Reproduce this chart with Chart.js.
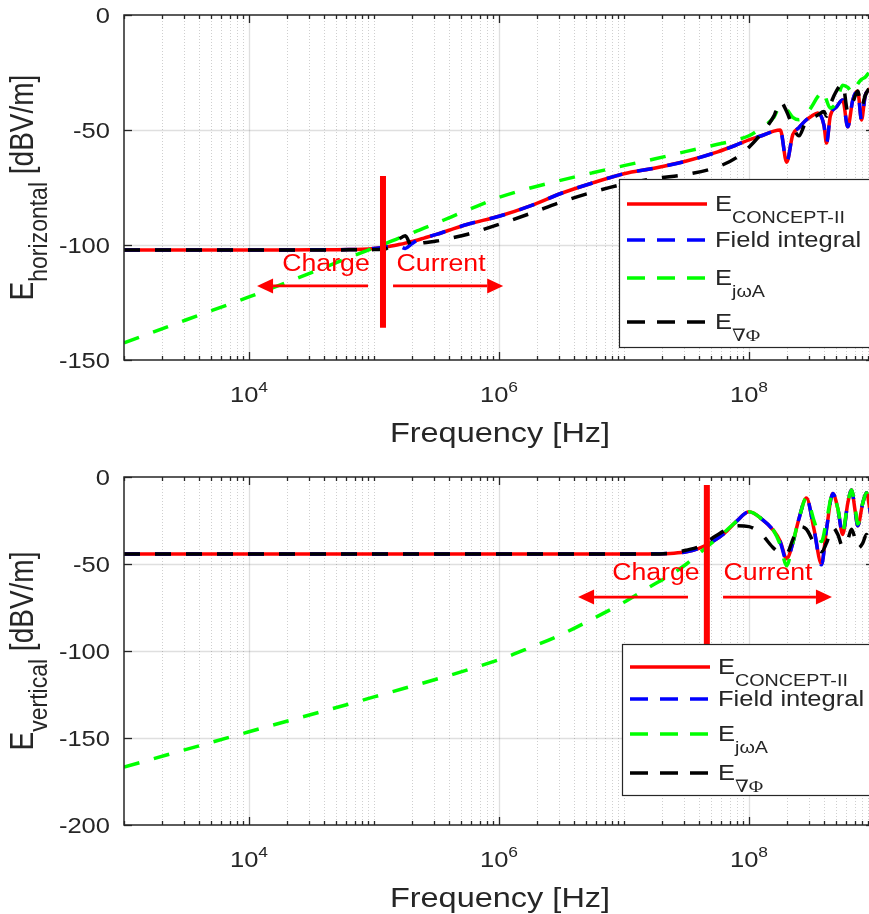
<!DOCTYPE html>
<html>
<head>
<meta charset="utf-8">
<script src="https://cdn.jsdelivr.net/npm/chart.js@4.4.1/dist/chart.umd.min.js"></script>
<style>
html, body { margin: 0; padding: 0; background: #fff; overflow: hidden; }
#wrap { position: relative; width: 869px; height: 914px; overflow: hidden; background: #fff; }
.panel { position: absolute; left: 0; width: 876px; }
#pTop { top: 0; height: 455px; }
#pBot { top: 460px; height: 454px; }
</style>
</head>
<body>
<div id="wrap">
  <div class="panel" id="pTop"><canvas id="chartTop"></canvas></div>
  <div class="panel" id="pBot"><canvas id="chartBot"></canvas></div>
</div>
<script>
// Series names (TeX-like subscripts)
const seriesNames = ['E_{CONCEPT-II}', 'Field integral', 'E_{jωA}', 'E_{∇Φ}'];
const xTickLabels = [1e4, 1e6, 1e8];

// Top panel: horizontal field
const freqTop = [1e3, 3.16e3, 1e4, 3.16e4, 6.31e4, 1e5, 1.26e5, 1.58e5, 1.78e5, 2e5, 2.24e5, 2.51e5, 3.16e5, 3.98e5, 5.62e5,
  1e6, 1.78e6, 3.16e6, 5.62e6, 1e7, 1.78e7, 3.16e7, 5.62e7, 7.94e7, 1e8, 1.26e8, 1.58e8, 1.78e8, 2e8, 2.24e8, 2.51e8,
  2.82e8, 3.16e8, 3.55e8, 3.98e8, 4.17e8, 4.47e8, 5.01e8, 5.62e8, 6.17e8, 6.76e8, 7.41e8, 7.94e8, 8.51e8, 9.12e8, 1e9];
const conceptTop = [-102.2, -102.2, -102.2, -102.1, -102.0, -101.5, -100.8, -99.8, -99.2, -98.5, -97.8, -97.0, -95.4, -93.6, -91.0,
  -87.5, -83.0, -77.5, -73.0, -69.0, -66.5, -63.5, -59.5, -56.5, -54.3, -52.5, -50.5, -50.0, -64.0, -52.0, -49.0,
  -46.0, -44.0, -42.6, -48.0, -55.7, -44.0, -40.0, -37.0, -48.6, -37.0, -33.0, -45.6, -35.0, -32.6, -30.0];
const fieldIntTop = [-102.2, -102.2, -102.2, -102.1, -102.0, -101.5, -100.8, -100.5, -101.5, -99.5, -97.8, -97.0, -95.4, -93.6, -91.0,
  -87.5, -83.0, -77.5, -73.0, -69.0, -66.5, -63.5, -59.5, -56.5, -54.3, -52.5, -50.5, -50.0, -64.0, -52.0, -49.0,
  -46.0, -44.0, -42.6, -48.0, -55.7, -44.0, -40.0, -37.0, -48.6, -37.0, -33.0, -45.6, -35.0, -32.6, -30.0];
const jwaTop = [-142.6, -132.5, -122.6, -112.0, -105.5, -101.3, -99.2, -97.0, -96.0, -94.9, -93.8, -92.7, -90.5, -88.2, -84.8,
  -79.3, -75.2, -71.8, -68.6, -65.5, -62.5, -59.3, -56.2, -54.3, -52.5, -49.0, -44.5, -39.5, -41.0, -44.5, -45.5,
  -43.5, -40.0, -35.5, -33.0, -37.0, -40.5, -38.0, -30.5, -31.5, -34.0, -30.0, -28.0, -27.0, -25.0, -23.0];
const gradPhiTop = [-102.2, -102.2, -102.2, -102.2, -102.1, -102.0, -101.5, -97.5, -96.0, -100.5, -99.5, -99.0, -98.3, -97.2, -95.3,
  -91.0, -86.3, -81.3, -77.0, -73.5, -71.0, -69.3, -66.0, -62.0, -57.5, -51.5, -44.0, -37.5, -42.0, -48.6, -52.5,
  -47.0, -45.0, -43.5, -42.0, -44.0, -39.0, -33.0, -30.0, -42.0, -38.0, -33.0, -40.0, -35.0, -32.0, -30.0];

// Bottom panel: vertical field
const freqBot = [1e3, 1e4, 1e5, 1e6, 1.78e6, 3.16e6, 5.62e6, 1e7, 1.58e7, 2.51e7, 3.16e7, 3.98e7, 5.01e7, 6.31e7, 7.94e7,
  1e8, 1.26e8, 1.58e8, 1.78e8, 2e8, 2.24e8, 2.51e8, 2.88e8, 3.31e8, 3.8e8, 4.17e8, 4.68e8, 5.13e8, 5.62e8, 6.17e8,
  6.61e8, 7.08e8, 7.41e8, 8.13e8, 8.71e8, 9.33e8, 1e9];
const conceptBot = [-44.3, -44.3, -44.3, -44.3, -44.3, -44.3, -44.3, -44.3, -44.2, -43.8, -43.0, -41.0, -37.5, -32.5, -25.5,
  -20.0, -24.0, -31.0, -37.0, -47.0, -38.0, -24.0, -12.0, -30.0, -50.0, -30.0, -9.5, -18.0, -33.0, -15.0,
  -7.5, -20.0, -28.0, -15.0, -9.0, -20.0, -30.0];
const fieldIntBot = [-44.3, -44.3, -44.3, -44.3, -44.3, -44.3, -44.3, -44.3, -44.2, -43.8, -43.0, -41.0, -37.5, -32.5, -25.5,
  -20.0, -24.0, -31.0, -37.5, -48.0, -38.0, -24.0, -12.0, -30.0, -50.5, -30.0, -9.5, -18.0, -33.0, -15.0,
  -7.5, -20.0, -28.0, -15.0, -9.0, -20.0, -30.0];
const jwaBot = [-166.7, -146.4, -126.4, -105.0, -98.0, -90.5, -81.5, -72.0, -63.5, -55.0, -50.0, -44.0, -38.0, -32.0, -25.5,
  -20.0, -24.0, -31.0, -39.0, -51.0, -38.0, -24.0, -12.0, -25.0, -37.0, -25.0, -9.5, -18.0, -31.0, -15.0,
  -7.5, -18.0, -27.0, -15.0, -9.0, -18.0, -26.0];
const gradPhiBot = [-44.3, -44.3, -44.3, -44.3, -44.3, -44.3, -44.3, -44.3, -44.3, -43.5, -42.0, -40.0, -35.5, -31.0, -28.0,
  -28.5, -33.0, -41.0, -43.5, -44.0, -36.0, -28.5, -30.0, -38.0, -43.0, -38.0, -29.0, -33.0, -40.0, -36.0,
  -30.0, -36.0, -41.0, -38.0, -33.0, -38.0, -42.0];

// Charge / current markers (data coordinates)
const markTop = { lineF: 1.18e5, lineY: [-70, -136], textY: -111.3, chargeF: 4.13e4, currentF: 3.44e5,
  arrowY: -117.8, leftArrow: [8.96e4, 1.16e4], rightArrow: [1.42e5, 1.08e6] };
const markBot = { lineF: 4.6e7, lineY: [-4.6, -96.5], textY: -59.2, chargeF: 1.8e7, currentF: 1.42e8,
  arrowY: -69, leftArrow: [3.25e7, 4.29e6], rightArrow: [6.2e7, 4.61e8] };

const SX = 1.16;
const SANS = '"Liberation Sans", Arial, Helvetica, sans-serif';
const SERIF = '"Liberation Serif", "DejaVu Serif", "Times New Roman", serif';
const AX = '#262626';
const DASH = [16, 15];

// Split "E_{sub}" into text runs
function parseTex(s, size, subSize, subDy) {
    const parts = [];
    const re = /_\{([^}]*)\}/g;
    let last = 0, m;
    while ((m = re.exec(s))) {
        if (m.index > last) parts.push({ t: s.slice(last, m.index), size: size, font: SANS, dy: 0 });
        parts.push({ t: m[1], size: subSize, dy: subDy, font: /[∇Φ]/.test(m[1]) ? SERIF : SANS });
        last = re.lastIndex;
    }
    if (last < s.length) parts.push({ t: s.slice(last), size: size, font: SANS, dy: 0 });
    return parts;
}

// Draw runs of text, slightly stretched like the original figure
function drawRuns(ctx, parts, x, y, align, rot, color) {
    ctx.save();
    ctx.translate(x, y);
    ctx.scale(SX, 1);
    if (rot) ctx.rotate(-Math.PI / 2);
    ctx.fillStyle = color || AX;
    ctx.textBaseline = 'alphabetic';
    ctx.textAlign = 'left';
    let w = 0;
    parts.forEach(p => { ctx.font = p.size + 'px ' + p.font; p.w = ctx.measureText(p.t).width; w += p.w; });
    let cx = align === 'center' ? -w / 2 : (align === 'right' ? -w : 0);
    parts.forEach(p => { ctx.font = p.size + 'px ' + p.font; ctx.fillText(p.t, cx, p.dy || 0); cx += p.w; });
    ctx.restore();
}

function hLine(ctx, x0, x1, y) { ctx.beginPath(); ctx.moveTo(x0, y); ctx.lineTo(x1, y); ctx.stroke(); }
function vLine(ctx, x, y0, y1) { ctx.beginPath(); ctx.moveTo(x, y0); ctx.lineTo(x, y1); ctx.stroke(); }

function arrow(ctx, x0, x1, y) {
    const dir = Math.sign(x1 - x0), head = 16, half = 7.5;
    ctx.beginPath(); ctx.moveTo(x0, y); ctx.lineTo(x1 - dir * head, y); ctx.stroke();
    ctx.beginPath();
    ctx.moveTo(x1, y);
    ctx.lineTo(x1 - dir * head, y - half);
    ctx.lineTo(x1 - dir * head, y + half);
    ctx.closePath();
    ctx.fill();
}

// MATLAB-like axes: grid, inward ticks, box, labels, markers, legend
const matlabAxes = {
    id: 'matlabAxes',
    beforeDatasetsDraw(chart, args, o) {
        const { ctx, chartArea: a, scales: { x, y } } = chart;
        ctx.save();
        ctx.lineWidth = 1;
        // minor grid (dotted)
        ctx.strokeStyle = 'rgba(38,38,38,0.22)';
        ctx.setLineDash([1, 2]);
        for (let d = 3; d <= 8; d++) {
            for (let m = 1; m <= 9; m++) {
                const v = m * Math.pow(10, d);
                if (m === 1 && (d === 3 || xTickLabels.includes(v))) continue;
                const px = Math.round(x.getPixelForValue(v)) + 0.5;
                vLine(ctx, px, a.top, a.bottom);
            }
        }
        // major grid
        ctx.setLineDash([]);
        ctx.strokeStyle = 'rgba(38,38,38,0.15)';
        ctx.lineWidth = 1.3;
        xTickLabels.forEach(v => vLine(ctx, Math.round(x.getPixelForValue(v)) + 0.5, a.top, a.bottom));
        y.ticks.forEach(t => {
            if (t.value <= y.min || t.value >= y.max) return;
            hLine(ctx, a.left, a.right, Math.round(y.getPixelForValue(t.value)) + 0.5);
        });
        ctx.restore();
    },
    afterDatasetsDraw(chart, args, o) {
        const { ctx, chartArea: a, scales: { x, y } } = chart;
        const mk = o.mark;
        ctx.save();

        // charge / current marker
        ctx.strokeStyle = '#ff0000';
        ctx.fillStyle = '#ff0000';
        ctx.lineWidth = 6;
        vLine(ctx, x.getPixelForValue(mk.lineF), y.getPixelForValue(mk.lineY[0]), y.getPixelForValue(mk.lineY[1]));
        ctx.lineWidth = 2.7;
        const ay = y.getPixelForValue(mk.arrowY);
        arrow(ctx, x.getPixelForValue(mk.leftArrow[0]), x.getPixelForValue(mk.leftArrow[1]), ay);
        arrow(ctx, x.getPixelForValue(mk.rightArrow[0]), x.getPixelForValue(mk.rightArrow[1]), ay);
        const ty = y.getPixelForValue(mk.textY);
        drawRuns(ctx, [{ t: 'Charge', size: 23, font: SANS }], x.getPixelForValue(mk.chargeF), ty, 'center', false, '#ff0000');
        drawRuns(ctx, [{ t: 'Current', size: 23, font: SANS }], x.getPixelForValue(mk.currentF), ty, 'center', false, '#ff0000');

        // inward ticks
        ctx.strokeStyle = AX;
        ctx.lineWidth = 1.3;
        for (let d = 3; d <= 9; d++) {
            for (let m = 1; m <= 9; m++) {
                const v = m * Math.pow(10, d);
                if (v > 1e9) break;
                const len = (m === 1 && xTickLabels.includes(v)) ? 8 : 4;
                const px = Math.round(x.getPixelForValue(v)) + 0.5;
                vLine(ctx, px, a.bottom, a.bottom - len);
                vLine(ctx, px, a.top, a.top + len);
            }
        }
        y.ticks.forEach(t => {
            const py = Math.round(y.getPixelForValue(t.value)) + 0.5;
            hLine(ctx, a.left, a.left + 8, py);
            hLine(ctx, a.right, a.right - 8, py);
        });

        // box
        ctx.lineWidth = 1.5;
        ctx.strokeRect(a.left, a.top, a.right - a.left, a.bottom - a.top);

        // legend
        const L = o.legend;
        ctx.fillStyle = '#fff';
        ctx.fillRect(L.x, L.y, 320, L.h);
        ctx.lineWidth = 1.2;
        ctx.strokeStyle = AX;
        ctx.strokeRect(L.x + 0.5, L.y + 0.5, 320, L.h);
        chart.data.datasets.forEach((ds, i) => {
            const ry = L.rows[i];
            ctx.strokeStyle = ds.borderColor;
            ctx.lineWidth = 3.5;
            ctx.setLineDash(ds.borderDash ? [18, 12] : []);
            hLine(ctx, L.x + 8, L.x + 88, ry);
            ctx.setLineDash([]);
            drawRuns(ctx, parseTex(seriesNames[i], 22, 17, 12), L.x + 96, ry + 7, 'left', false);
        });

        // tick labels
        y.ticks.forEach(t => {
            drawRuns(ctx, [{ t: String(t.value), size: 22, font: SANS }], 110, y.getPixelForValue(t.value) + 8, 'right', false);
        });
        xTickLabels.forEach(v => {
            const e = String(Math.round(Math.log10(v)));
            drawRuns(ctx, [{ t: '10', size: 22, font: SANS }, { t: e, size: 15, font: SANS, dy: -10 }],
                x.getPixelForValue(v), a.bottom + 42, 'center', false);
        });

        // axis titles
        drawRuns(ctx, [{ t: 'Frequency [Hz]', size: 28, font: SANS }], (a.left + a.right) / 2 + 1, a.bottom + 82, 'center', false);
        drawRuns(ctx, parseTex(o.yLabel, 28, 23, 12), 33, (a.top + a.bottom) / 2, 'center', true);
        ctx.restore();
    }
};

function makeDatasets(freq, lists) {
    const colors = ['#ff0000', '#0000ff', '#00ff00', '#000000'];
    return lists.map((vals, i) => ({
        label: seriesNames[i],
        data: freq.map((f, k) => ({ x: f, y: vals[k] })),
        borderColor: colors[i],
        borderWidth: 3.5,
        borderDash: i === 0 ? undefined : DASH,
        pointRadius: 0,
        cubicInterpolationMode: 'monotone',
        order: 4 - i
    }));
}

function makeChart(id, freq, lists, yMin, padTop, xHeight, opts) {
    return new Chart(document.getElementById(id), {
        type: 'line',
        data: { datasets: makeDatasets(freq, lists) },
        options: {
            responsive: true,
            maintainAspectRatio: false,
            animation: false,
            events: [],
            layout: { padding: { top: padTop, right: 2, left: 0, bottom: 0 } },
            plugins: { legend: { display: false }, tooltip: { enabled: false }, matlabAxes: opts },
            scales: {
                x: {
                    type: 'logarithmic', min: 1e3, max: 1e9,
                    ticks: { display: false }, grid: { display: false }, border: { display: false },
                    afterFit: s => { s.height = xHeight; }
                },
                y: {
                    type: 'linear', min: yMin, max: 0,
                    ticks: { display: false, stepSize: 50 }, grid: { display: false }, border: { display: false },
                    afterFit: s => { s.width = 124; }
                }
            }
        },
        plugins: [matlabAxes]
    });
}

makeChart('chartTop', freqTop, [conceptTop, fieldIntTop, jwaTop, gradPhiTop], -150, 15, 95, {
    yLabel: 'E_{horizontal} [dBV/m]',
    mark: markTop,
    legend: { x: 619, y: 179, h: 168, rows: [204, 240, 278, 322] }
});
makeChart('chartBot', freqBot, [conceptBot, fieldIntBot, jwaBot, gradPhiBot], -200, 17, 89, {
    yLabel: 'E_{vertical} [dBV/m]',
    mark: markBot,
    legend: { x: 622, y: 184, h: 151, rows: [207, 239, 274, 313] }
});
</script>
</body>
</html>
